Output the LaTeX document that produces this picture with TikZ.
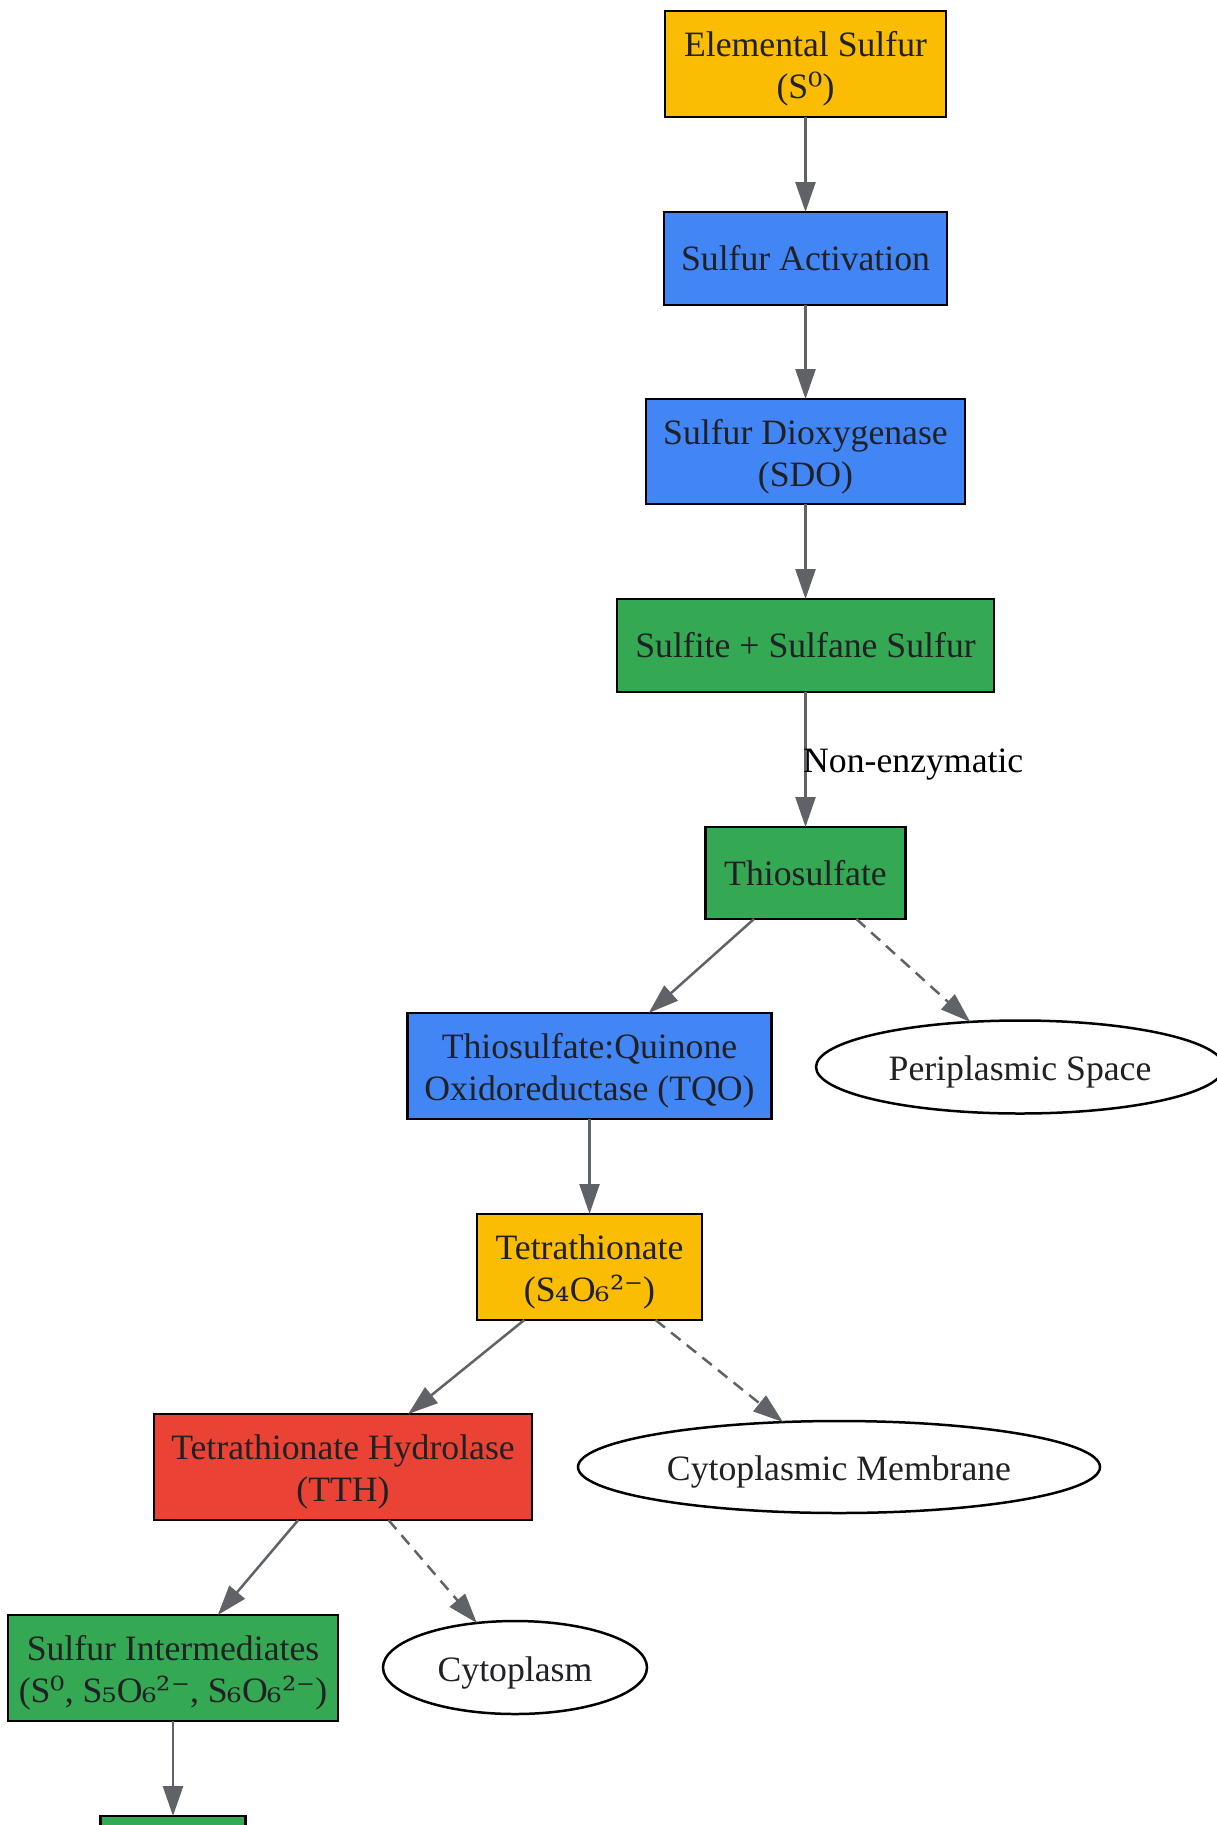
\documentclass[tikz,border=0pt]{standalone}
\usepackage{fontspec}
\setmainfont{Liberation Serif}
\newfontfamily\chemfont{DejaVu Serif}
\usetikzlibrary{arrows.meta,shapes.geometric}
\definecolor{cyel}{HTML}{FBBC04}
\definecolor{cblu}{HTML}{4285F4}
\definecolor{cgrn}{HTML}{34A853}
\definecolor{cred}{HTML}{EA4335}
\definecolor{ctext}{HTML}{202124}
\definecolor{cedge}{HTML}{5F6368}
\newcommand{\chemu}[1]{{\chemfont #1}}
\tikzset{
  box/.style={draw=black, line width=2.5pt, text=ctext, align=center, inner sep=0pt, outer sep=0pt,
    font=\fontsize{35.7}{42}\selectfont},
  ell/.style={ellipse, draw=black, line width=2.5pt, fill=white, text=ctext, inner sep=0pt, outer sep=0pt,
    font=\fontsize{35.7}{42}\selectfont},
  intext/.style={align=center, text=ctext, inner sep=0pt, outer sep=0pt, yshift=-5pt,
    font=\fontsize{35.7}{42}\selectfont},
  flow/.style={draw=cedge, line width=2.5pt, -{Triangle[length=30pt,width=20pt]}},
  side/.style={flow, dash pattern=on 12pt off 8pt},
  lbl/.style={text=black, inner sep=0pt, font=\fontsize{35.7}{42}\selectfont}
}
\begin{document}
\begin{tikzpicture}[x=1pt,y=-1pt]
\useasboundingbox (0,0) rectangle (1217,1825);
\node[box, fill=cyel, minimum width=281pt, minimum height=106pt,
  label={[intext]center:{Elemental Sulfur\\(S\chemu{⁰})}}] (es) at (805.5,64) {};
\node[box, fill=cblu, minimum width=283pt, minimum height=93pt] (sa) at (805.5,258.5) {Sulfur Activation};
\node[box, fill=cblu, minimum width=319pt, minimum height=105pt,
  label={[intext]center:{Sulfur Dioxygenase\\(SDO)}}] (sdo) at (805.5,451.5) {};
\node[box, fill=cgrn, minimum width=377pt, minimum height=93pt] (sul) at (805.5,645.5) {Sulfite + Sulfane Sulfur};
\node[box, fill=cgrn, minimum width=200pt, minimum height=92pt] (thio) at (805.5,873) {Thiosulfate};
\node[box, fill=cblu, minimum width=364pt, minimum height=106pt,
  label={[intext]center:{Thiosulfate:Quinone\\Oxidoreductase (TQO)}}] (tqo) at (589.5,1066) {};
\node[ell, minimum width=408pt, minimum height=93pt,
  label={[intext]center:{Periplasmic Space}}] (peri) at (1020,1067) {};
\node[box, fill=cyel, minimum width=225pt, minimum height=106pt,
  label={[intext]center:{Tetrathionate\\(S\chemu{₄}O\chemu{₆²⁻})}}] (tet) at (589.5,1267) {};
\node[box, fill=cred, minimum width=378pt, minimum height=106pt,
  label={[intext]center:{Tetrathionate Hydrolase\\(TTH)}}] (tth) at (343,1467) {};
\node[ell, minimum width=522pt, minimum height=92pt,
  label={[intext]center:{Cytoplasmic Membrane}}] (cm) at (839,1467) {};
\node[box, fill=cgrn, minimum width=330pt, minimum height=106pt,
  label={[intext]center:{Sulfur Intermediates\\(S\chemu{⁰}, S\chemu{₅}O\chemu{₆²⁻}, S\chemu{₆}O\chemu{₆²⁻})}}] (si) at (173,1668) {};
\node[ell, minimum width=264pt, minimum height=93pt,
  label={[intext]center:{Cytoplasm}}] (cyto) at (515,1667.5) {};
\node[box, fill=cgrn, minimum width=145pt, minimum height=93pt] (nxt) at (173,1862.5) {};
\draw[flow] (es) -- (sa);
\draw[flow] (sa) -- (sdo);
\draw[flow] (sdo) -- (sul);
\draw[flow] (sul) -- (thio);
\node[lbl, anchor=base west] (nonenz) at (803,772) {Non-enzymatic};
\draw[flow] (thio) -- (tqo);
\draw[side] (thio) -- (peri);
\draw[flow] (tqo) -- (tet);
\draw[flow] (tet) -- (tth);
\draw[side] (tet) -- (cm);
\draw[flow] (tth) -- (si);
\draw[side] (tth) -- (cyto);
\draw[flow] (si) -- (nxt);
\end{tikzpicture}
\end{document}
